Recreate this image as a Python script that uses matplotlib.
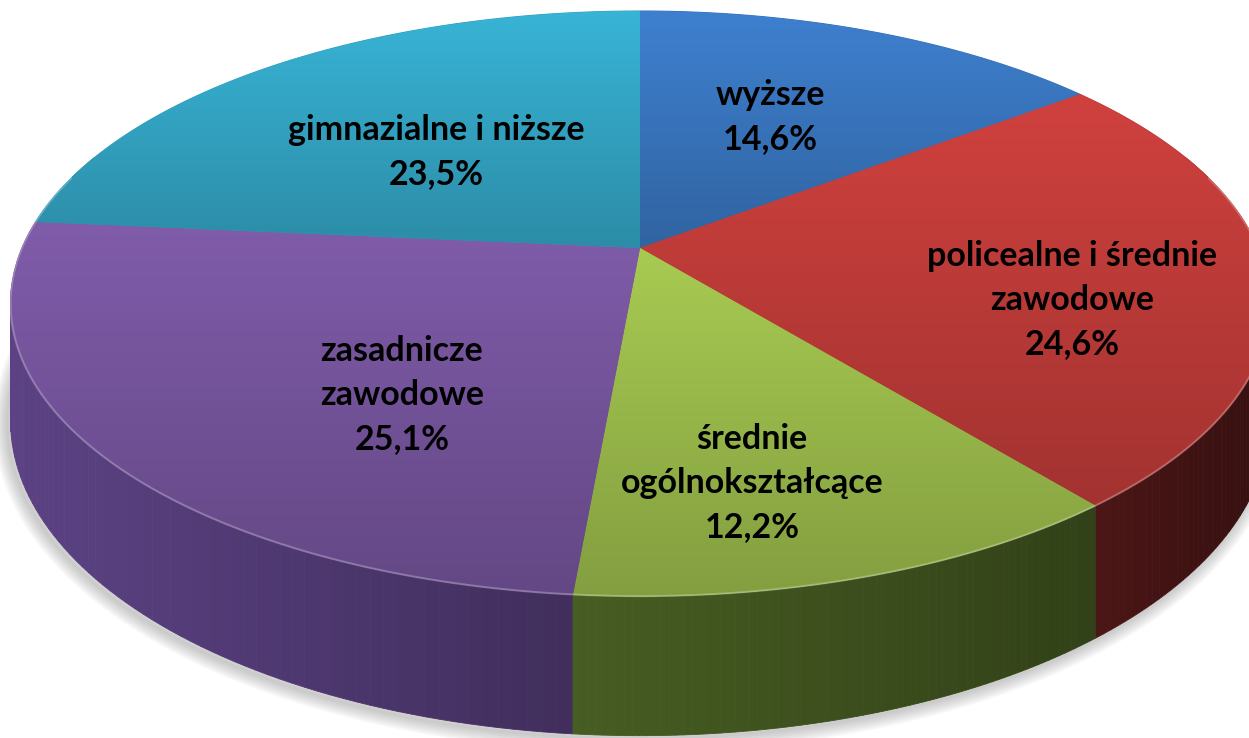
import numpy as np
import matplotlib.pyplot as plt
from matplotlib.patches import Polygon
from matplotlib.colors import to_rgb

# data: education level shares (%), clockwise from 12 o'clock
categories = ['wyższe', 'policealne i średnie\nzawodowe', 'średnie\nogólnokształcące',
              'zasadnicze\nzawodowe', 'gimnazialne i niższe']
shares = [14.6, 24.6, 12.2, 25.1, 23.5]

# styles
top_colors = ['#3E80CF', '#D0413E', '#A8CB52', '#805CAA', '#38B4D6']
side_colors = ['#2A4F80', '#4C1616', '#475D22', '#5C4284', '#23748A']
label_pos = [(770, 117), (1072, 300), (752, 483), (402, 395), (436, 152)]

# projection of the pie disk (u right, v towards viewer) to pixels
CX, CY = 640, 248
SX, SY, K, H = 618, 282, 0.19, 113


def project(phi, r=1.0, depth=0.0):
    u = r * np.sin(phi)
    v = -r * np.cos(phi)
    w = 1 - K * v
    return CX + SX * u / w, CY + (SY * v + depth * H) / w


fig = plt.figure(figsize=(12.49, 7.38), dpi=100)
ax = fig.add_axes([0, 0, 1, 1])
ax.set_xlim(0, 1249)
ax.set_ylim(738, 0)
ax.axis('off')

bounds = np.radians(np.concatenate([[0], np.cumsum(shares)]) * 3.6)

# soft shadow under the pie
ring = np.linspace(np.radians(60), np.radians(300), 200)
bx, by = project(ring, depth=1.0)
for i in range(8):
    ax.plot(bx - 3, by + 3, color='gray', alpha=0.06, lw=2 + 2.5 * i,
            solid_capstyle='round', zorder=1)

# outer wall, back to front
quads = []
for i in range(len(shares)):
    a0 = max(bounds[i], np.radians(70))
    a1 = min(bounds[i + 1], np.radians(290))
    if a1 <= a0:
        continue
    ph = np.linspace(a0, a1, 80)
    tx, ty = project(ph)
    dx, dy = project(ph, depth=1.0)
    xmin, xmax = tx.min(), tx.max()
    base = np.array(to_rgb(side_colors[i]))
    for j in range(len(ph) - 1):
        t = ((tx[j] + tx[j + 1]) / 2 - xmin) / max(xmax - xmin, 1)
        col = np.clip(base * (1.0 - 0.3 * t), 0, 1)
        pts = [(tx[j], ty[j]), (tx[j + 1], ty[j + 1]),
               (dx[j + 1], dy[j + 1]), (dx[j], dy[j])]
        quads.append((-np.cos(ph[j]), pts, col))
for _, pts, col in sorted(quads, key=lambda q: q[0]):
    ax.add_patch(Polygon(pts, closed=True, facecolor=col, edgecolor=col,
                         lw=0.6, zorder=2))

# top face with vertical gradient per slice
for i in range(len(shares)):
    ph = np.linspace(bounds[i], bounds[i + 1], 120)
    ex, ey = project(ph)
    xs = np.concatenate([[CX], ex])
    ys = np.concatenate([[CY], ey])
    light = np.array(to_rgb(top_colors[i]))
    dark = light * 0.78
    poly = Polygon(np.column_stack([xs, ys]), closed=True,
                   facecolor=(light + dark) / 2, edgecolor=(light + dark) / 2,
                   lw=0.8, zorder=3)
    ax.add_patch(poly)
    t = np.linspace(0, 1, 256)[:, None, None]
    grad = light[None, None, :] * (1 - t) + dark[None, None, :] * t
    im = ax.imshow(grad, extent=[xs.min(), xs.max(), ys.max(), ys.min()],
                   origin='upper', aspect='auto', interpolation='bilinear',
                   zorder=4)
    im.set_clip_path(poly)

# light rim along the front edge of the top face
ph = np.linspace(np.radians(75), np.radians(285), 200)
rx, ry = project(ph)
ax.plot(rx, ry, color='white', alpha=0.25, lw=1.5, zorder=5)

ax.set_xlim(0, 1249)
ax.set_ylim(738, 0)

# labels
for name, val, (lx, ly) in zip(categories, shares, label_pos):
    txt = name + '\n' + f'{val:.1f}%'.replace('.', ',')
    ax.text(lx, ly, txt, ha='center', va='center', fontsize=24.5,
            fontweight='bold', family=['Lato', 'DejaVu Sans'],
            linespacing=1.45, color='black', zorder=6)

fig.savefig('out.png', dpi=100)
